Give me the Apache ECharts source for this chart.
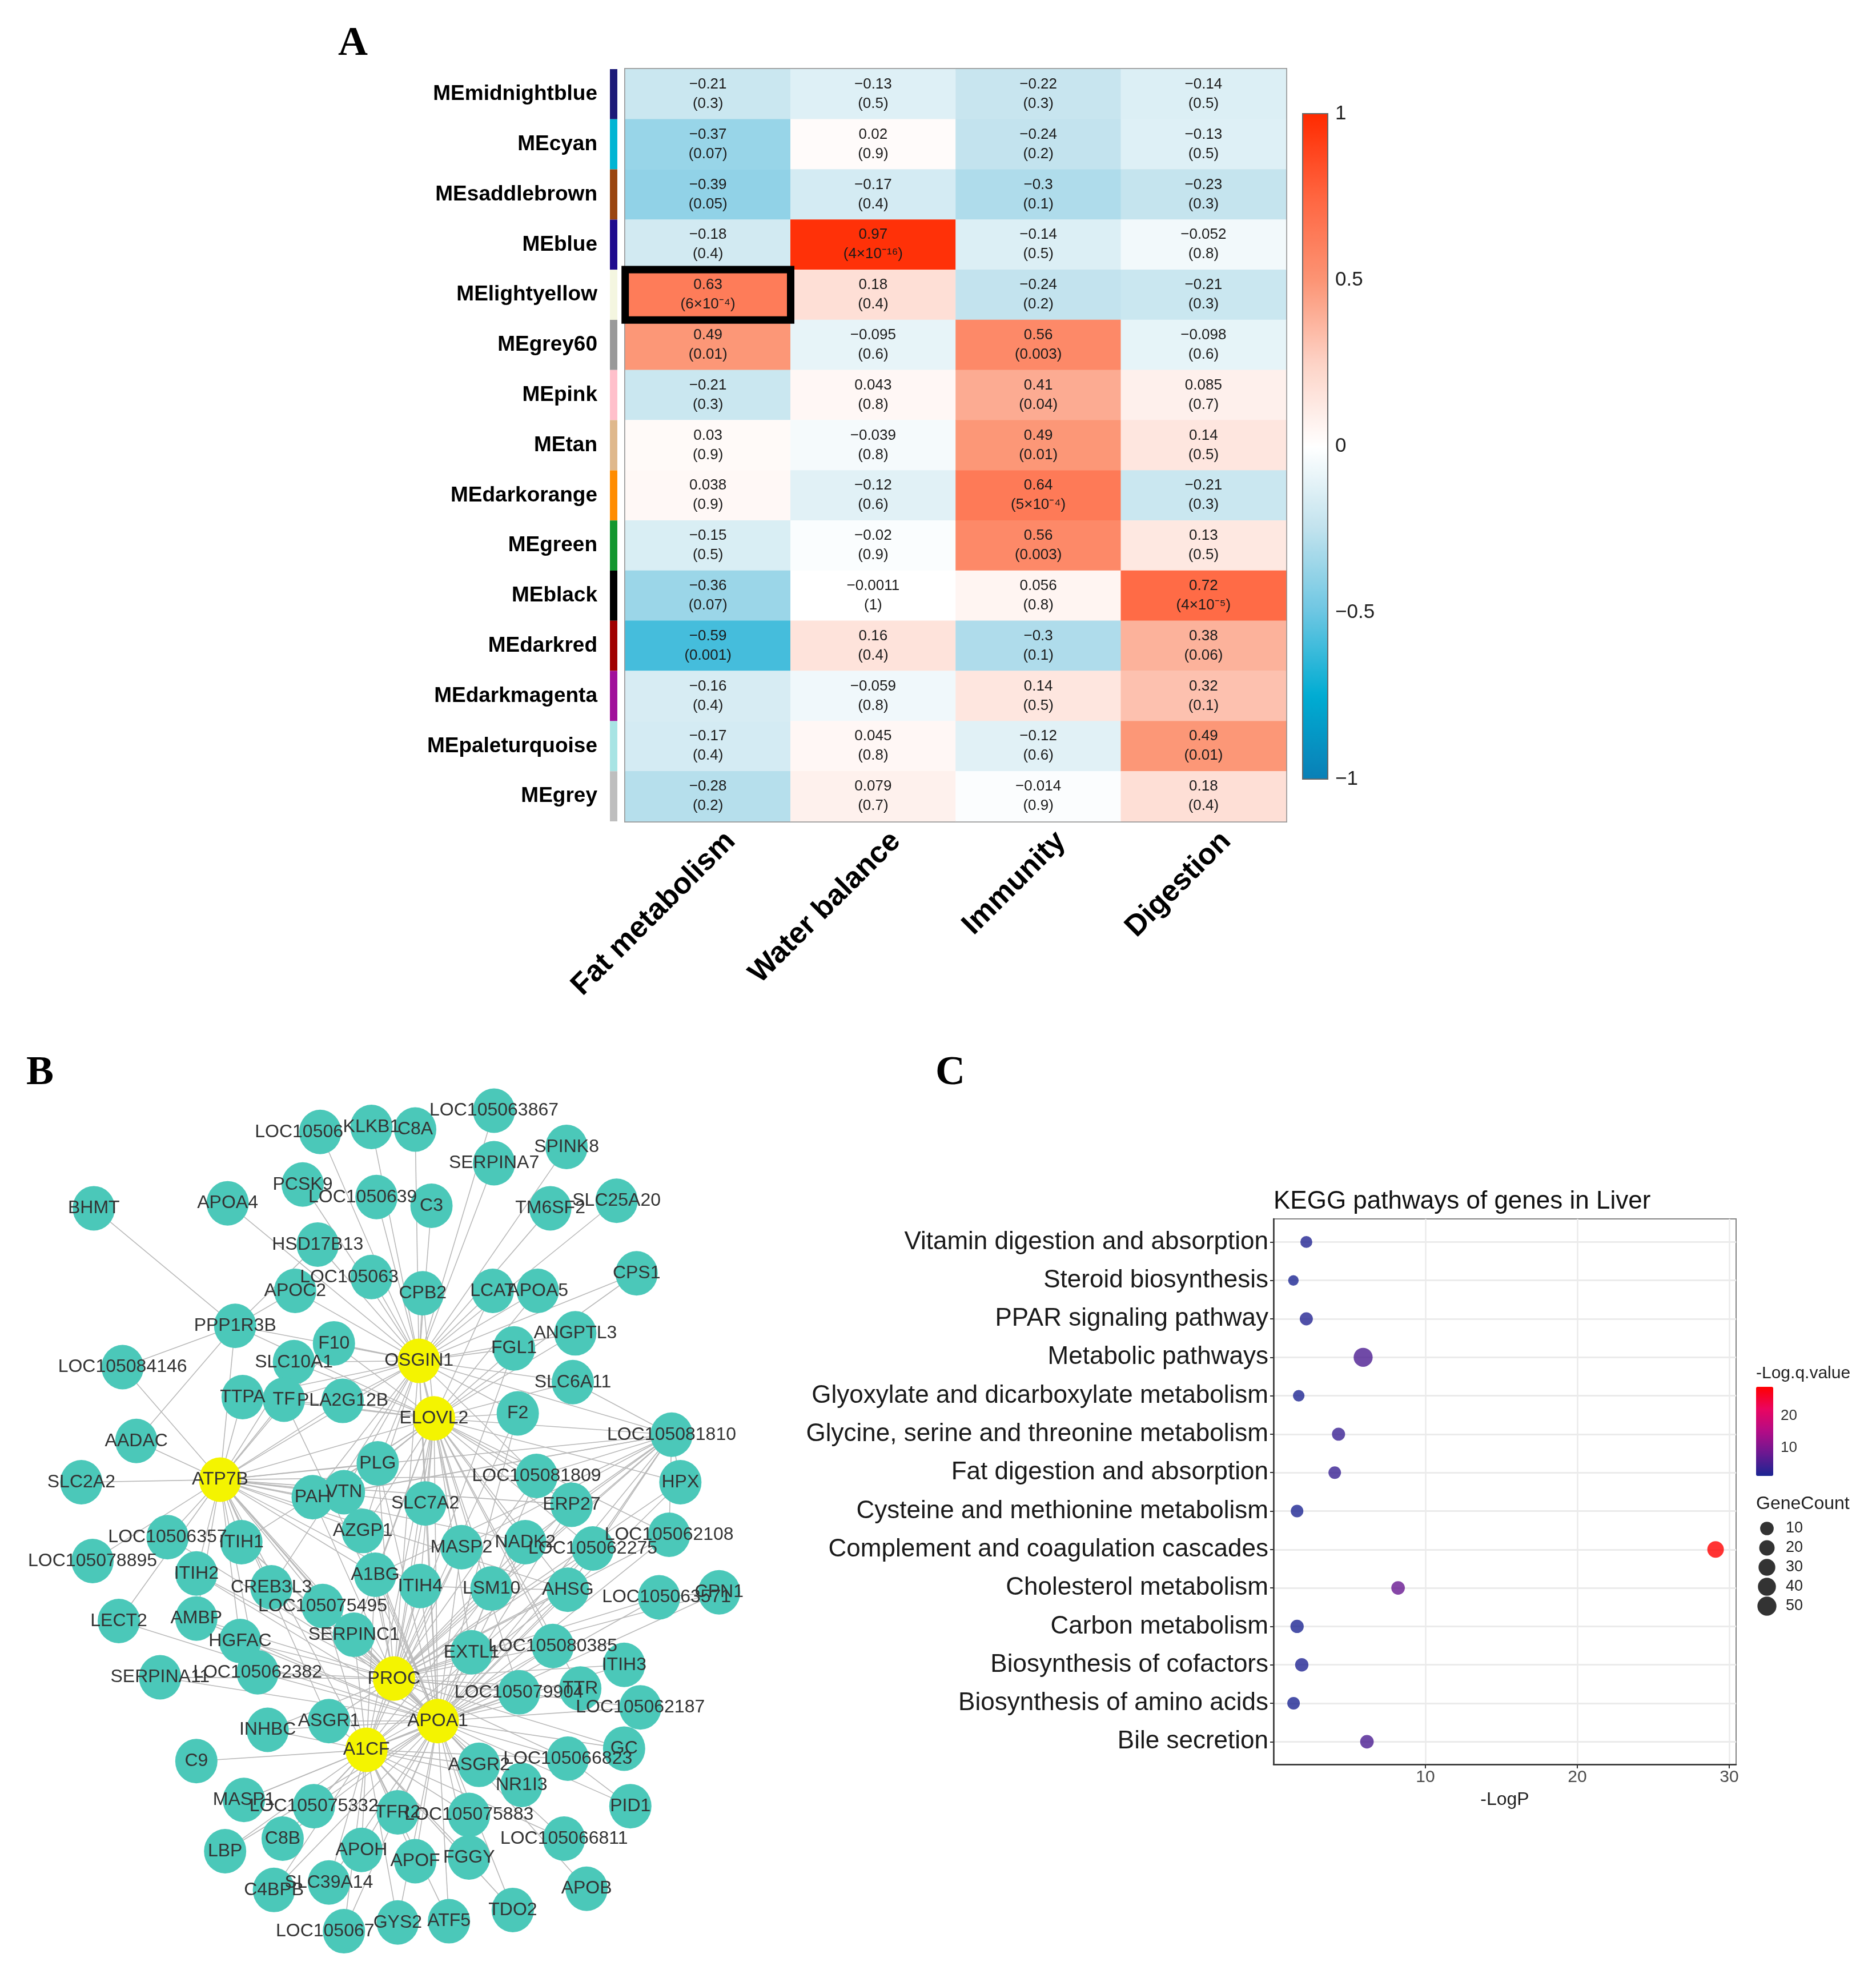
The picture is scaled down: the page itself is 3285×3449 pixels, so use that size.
<!DOCTYPE html>
<html><head><meta charset="utf-8">
<script src="https://cdn.jsdelivr.net/npm/echarts@6/dist/echarts.min.js"></script>
<style>html,body{margin:0;padding:0;background:#fff}#c{width:3285px;height:3449px}</style>
</head><body><div id="c"></div>
<script>
// ---------------- Panel A data ----------------
const moduleNames = ['MEmidnightblue','MEcyan','MEsaddlebrown','MEblue','MElightyellow','MEgrey60','MEpink','MEtan','MEdarkorange','MEgreen','MEblack','MEdarkred','MEdarkmagenta','MEpaleturquoise','MEgrey'];
const moduleColors = ['#1c1a78','#00b5d3','#9a4510','#1e0a8e','#f4f6e0','#999999','#ffc0cb','#dfb88c','#ff8c00','#12962e','#000000','#a00000','#a0109a','#a8e4e4','#bebebe'];
const traitNames = ['Fat metabolism','Water balance','Immunity','Digestion'];
const corrFat = [-0.21,-0.37,-0.39,-0.18,0.63,0.49,-0.21,0.03,0.038,-0.15,-0.36,-0.59,-0.16,-0.17,-0.28];
const corrWater = [-0.13,0.02,-0.17,0.97,0.18,-0.095,0.043,-0.039,-0.12,-0.02,-0.0011,0.16,-0.059,0.045,0.079];
const corrImmunity = [-0.22,-0.24,-0.3,-0.14,-0.24,0.56,0.41,0.49,0.64,0.56,0.056,-0.3,0.14,-0.12,-0.014];
const corrDigestion = [-0.14,-0.13,-0.23,-0.052,-0.21,-0.098,0.085,0.14,-0.21,0.13,0.72,0.38,0.32,0.49,0.18];
const pFat = ['0.3','0.07','0.05','0.4','6×10⁻⁴','0.01','0.3','0.9','0.9','0.5','0.07','0.001','0.4','0.4','0.2'];
const pWater = ['0.5','0.9','0.4','4×10⁻¹⁶','0.4','0.6','0.8','0.8','0.6','0.9','1','0.4','0.8','0.8','0.7'];
const pImmunity = ['0.3','0.2','0.1','0.5','0.2','0.003','0.04','0.01','5×10⁻⁴','0.003','0.8','0.1','0.5','0.6','0.9'];
const pDigestion = ['0.5','0.5','0.3','0.8','0.3','0.6','0.7','0.5','0.3','0.5','4×10⁻⁵','0.06','0.1','0.01','0.4'];
const highlightCell = ['MElightyellow','Fat metabolism'];

// ---------------- Panel B data ----------------
const nodeNames = ['LOC10506','KLKB1','C8A','LOC105063867','SERPINA7','SPINK8','PCSK9','LOC1050639','C3','APOA4','BHMT','TM6SF2','SLC25A20','HSD17B13','LOC105063','APOC2','CPB2','LCAT','APOA5','CPS1','PPP1R3B','F10','OSGIN1','FGL1','ANGPTL3','SLC10A1','LOC105084146','SLC6A11','TTPA','TF','PLA2G12B','ELOVL2','F2','AADAC','LOC105081810','PLG','LOC105081809','HPX','ATP7B','SLC2A2','PAH','VTN','SLC7A2','ERP27','AZGP1','LOC10506357','ITIH1','LOC105078895','MASP2','NADK2','LOC105062275','LOC105062108','ITIH2','CREB3L3','A1BG','ITIH4','LSM10','AHSG','LOC105063571','CPN1','LOC105075495','LECT2','AMBP','HGFAC','SERPINC1','EXTL1','LOC105080385','ITIH3','SERPINA11','LOC105062382','PROC','LOC105079904','TTR','LOC105062187','INHBC','ASGR1','APOA1','A1CF','C9','ASGR2','LOC105066823','GC','NR1I3','PID1','MASP1','LOC105075332','TFR2','LOC105075883','LOC105066811','LBP','C8B','APOH','APOF','FGGY','C4BPB','SLC39A14','APOB','TDO2','LOC105067','GYS2','ATF5'];
const nodeX = [256,297,332,395,395,453,242,301,345,182,75,440,493,254,297,236,338,394,430,509,188,267,335,411,460,235,98,458,194,227,274,347,414,109,537,302,429,544,176,65,250,275,340,457,290,134,193,74,369,420,474,535,157,217,300,336,393,454,527,575,258,95,157,192,283,377,442,499,128,206,315,415,464,512,214,263,350,293,157,383,454,499,417,504,195,251,318,375,451,180,226,289,332,375,219,263,469,410,275,318,359];
const nodeY = [905,901,903,888,930,917,947,957,964,962,966,966,960,995,1021,1032,1034,1032,1032,1018,1060,1074,1088,1078,1066,1089,1093,1105,1117,1119,1120,1134,1130,1152,1147,1170,1180,1185,1183,1185,1197,1193,1202,1203,1224,1229,1233,1248,1237,1233,1238,1227,1258,1269,1259,1268,1270,1271,1277,1273,1284,1296,1294,1312,1307,1321,1316,1331,1341,1337,1342,1353,1350,1365,1383,1376,1376,1399,1408,1411,1406,1398,1427,1444,1439,1444,1449,1451,1470,1480,1470,1479,1488,1485,1511,1505,1510,1527,1544,1537,1536];
const hubNodes = ['OSGIN1','ELOVL2','ATP7B','PROC','APOA1','A1CF'];
const osgin1Links = ['LOC10506','KLKB1','C8A','LOC105063867','SERPINA7','SPINK8','TM6SF2','SLC25A20','C3','LOC1050639','PCSK9','APOA4','HSD17B13','LOC105063','CPB2','LCAT','APOA5','CPS1','APOC2','PPP1R3B','F10','SLC10A1','FGL1','ANGPTL3','SLC6A11','TTPA','TF','PLA2G12B','F2','LOC105081810','PLG','LOC105081809','PAH','VTN','SLC7A2','AZGP1','MASP2','CREB3L3','ELOVL2','ATP7B','PROC','APOA1'];
const elovl2Links = ['CPB2','LCAT','APOA5','CPS1','PPP1R3B','F10','SLC10A1','FGL1','ANGPTL3','SLC6A11','TTPA','TF','PLA2G12B','F2','LOC105081810','PLG','LOC105081809','HPX','PAH','VTN','SLC7A2','ERP27','AZGP1','ITIH1','MASP2','NADK2','LOC105062275','LOC105062108','A1BG','ITIH4','LSM10','AHSG','SERPINC1','EXTL1','LOC105080385','LOC105079904','TTR','ATP7B','PROC','APOA1','A1CF'];
const atp7bLinks = ['PPP1R3B','F10','SLC10A1','LOC105084146','TTPA','TF','PLA2G12B','AADAC','SLC2A2','PLG','LOC105081809','PAH','VTN','SLC7A2','ERP27','AZGP1','LOC10506357','ITIH1','LOC105078895','NADK2','ITIH2','CREB3L3','A1BG','ITIH4','AHSG','LOC105075495','LECT2','AMBP','HGFAC','SERPINC1','LOC105062382','ASGR1','LOC105081810','PROC','APOA1','A1CF'];
const procLinks = ['FGL1','F2','LOC105081810','PLG','LOC105081809','HPX','PAH','SLC7A2','ERP27','AZGP1','LOC10506357','ITIH1','MASP2','NADK2','LOC105062275','LOC105062108','ITIH2','CREB3L3','A1BG','ITIH4','LSM10','AHSG','LOC105063571','CPN1','LOC105075495','AMBP','HGFAC','SERPINC1','EXTL1','LOC105080385','ITIH3','SERPINA11','LOC105062382','LOC105079904','TTR','LOC105062187','INHBC','ASGR1','ASGR2','LOC105066823','GC','APOA1','A1CF'];
const apoa1Links = ['TF','F2','LOC105081810','PLG','LOC105081809','HPX','VTN','SLC7A2','ERP27','AZGP1','ITIH1','MASP2','NADK2','LOC105062275','LOC105062108','ITIH2','CREB3L3','A1BG','ITIH4','LSM10','AHSG','LOC105063571','CPN1','LOC105075495','LECT2','AMBP','HGFAC','SERPINC1','EXTL1','LOC105080385','ITIH3','SERPINA11','LOC105062382','LOC105079904','TTR','LOC105062187','INHBC','ASGR1','ASGR2','LOC105066823','GC','NR1I3','PID1','MASP1','LOC105075332','TFR2','LOC105075883','LOC105066811','LBP','C8B','APOH','APOF','FGGY','C4BPB','SLC39A14','APOB','TDO2','LOC105067','GYS2','ATF5','A1CF'];
const a1cfLinks = ['MASP2','LOC105062275','A1BG','ITIH4','LSM10','AHSG','LOC105075495','SERPINC1','LOC105080385','LOC105079904','INHBC','ASGR1','C9','ASGR2','LOC105066823','NR1I3','MASP1','LOC105075332','TFR2','LOC105075883','LOC105066811','LBP','C8B','APOH','APOF','FGGY','C4BPB','SLC39A14','TDO2','LOC105067','GYS2','ATF5'];
const otherLinks = [['BHMT','PPP1R3B'],['LOC105084146','PPP1R3B'],['AADAC','PPP1R3B'],['HSD17B13','PPP1R3B'],['APOC2','PPP1R3B'],['PID1','LOC105066823'],['LOC105081810','PAH'],['LOC105081810','VTN'],['LOC105081810','ERP27'],['LOC105081810','MASP2'],['LOC105081810','NADK2'],['LOC105081810','LOC105062275'],['LOC105081810','LOC105062108'],['LOC105081810','A1BG'],['LOC105081810','SLC6A11'],['LOC105081810','LSM10'],['LOC105081810','AHSG'],['LOC105081810','LOC105081809'],['LOC105081810','HPX'],['ITIH4','LSM10'],['LSM10','AHSG'],['CPN1','LOC105063571']];

// ---------------- Panel C data ----------------
const pathways = ['Vitamin digestion and absorption','Steroid biosynthesis','PPAR signaling pathway','Metabolic pathways','Glyoxylate and dicarboxylate metabolism','Glycine, serine and threonine metabolism','Fat digestion and absorption','Cysteine and methionine metabolism','Complement and coagulation cascades','Cholesterol metabolism','Carbon metabolism','Biosynthesis of cofactors','Biosynthesis of amino acids','Bile secretion'];
const negLogP = [2.16,1.31,2.16,5.9,1.66,4.28,4.03,1.55,29.1,8.2,1.55,1.86,1.32,6.15];
const negLogQ = [1.9,1.3,2.0,5.6,1.5,4.0,3.8,1.45,29.1,8.0,1.45,1.7,1.25,5.5];
const geneCount = [4,1,8,50,3,8,6,6,28,10,9,9,6,10];
const legendCounts = [10,20,30,40,50];
const qTicks = [10,20];

// ---------------- build ----------------
const FONT = "'Liberation Sans', Arial, Helvetica, sans-serif";
const minus = v => (v < 0 ? '\u2212' + String(-v) : String(v));
const corrCols = [corrFat, corrWater, corrImmunity, corrDigestion];
const pCols = [pFat, pWater, pImmunity, pDigestion];
const hlRow = moduleNames.indexOf(highlightCell[0]);
const hlCol = traitNames.indexOf(highlightCell[1]);
const mainCells = [], hlCells = [];
for (let c = 0; c < traitNames.length; c++) {
  for (let r = 0; r < moduleNames.length; r++) {
    const item = [c, r, corrCols[c][r]];
    if (c === hlCol && r === hlRow) hlCells.push(item); else mainCells.push(item);
  }
}
const cellLabel = {
  show: true, color: '#1a1a1a', fontSize: 26, lineHeight: 34, fontFamily: FONT,
  formatter: p => minus(p.value[2]) + '\n(' + pCols[p.value[0]][p.value[1]] + ')'
};
const heatColors = ['#0a7fb6','#00acd2','#6cc6e2','#c0e2ed','#ffffff','#fdd3c6','#fc9474','#ff6540','#ff2a00'];
const qColors = ['#1b2592','#6a1891','#b30c86','#ea0560','#ff0000'];
const sizeFn = c => 16 + 2.45 * Math.sqrt(c);

const labelShift = {LOC10506: -37, LOC1050639: -24, LOC105063: -39, LOC105067: -33, LOC105063571: 13};
const graphNodes = nodeNames.map((n, i) => {
  const hub = hubNodes.indexOf(n) >= 0;
  return {
    name: n, value: [nodeX[i], nodeY[i]],
    itemStyle: {color: hub ? '#f4f400' : '#4bc8b9'},
    label: {offset: [labelShift[n] || 0, 0]}
  };
});
const graphLinks = [];
[[hubNodes[0], osgin1Links],[hubNodes[1], elovl2Links],[hubNodes[2], atp7bLinks],[hubNodes[3], procLinks],[hubNodes[4], apoa1Links],[hubNodes[5], a1cfLinks]]
  .forEach(([h, list]) => list.forEach(t => graphLinks.push({source: h, target: t})));
otherLinks.forEach(([a, b]) => graphLinks.push({source: a, target: b}));

const keggData = pathways.map((p, i) => [negLogP[i], i, negLogQ[i], geneCount[i]]);
const legendData = legendCounts.map((c, i) => [0, i, c]);

const hidden = {show: false};
const letterFont = "bold 72px 'Liberation Serif', 'Times New Roman', serif";
const option = {
  animation: false,
  backgroundColor: '#ffffff',
  textStyle: {fontFamily: FONT},
  title: [
    {text: 'KEGG pathways of genes in Liver', left: 2230, top: 2082, padding: 0,
     textStyle: {fontSize: 44, fontWeight: 'normal', color: '#111', fontFamily: FONT}},
    {text: '-Log.q.value', left: 3075, top: 2390, padding: 0,
     textStyle: {fontSize: 30, fontWeight: 'normal', color: '#222', fontFamily: FONT}},
    {text: 'GeneCount', left: 3075, top: 2617, padding: 0,
     textStyle: {fontSize: 32, fontWeight: 'normal', color: '#222', fontFamily: FONT}}
  ],
  graphic: [
    {type: 'text', left: 592, top: 41, style: {text: 'A', font: letterFont, fill: '#000'}},
    {type: 'text', left: 46, top: 1843, style: {text: 'B', font: letterFont, fill: '#000'}},
    {type: 'text', left: 1638, top: 1843, style: {text: 'C', font: letterFont, fill: '#000'}}
  ],
  grid: [
    {left: 1095, top: 121, width: 1157, height: 1317, show: true, borderColor: '#9a9a9a', borderWidth: 4},
    {left: 1068, top: 121, width: 13, height: 1317},
    {left: 2281, top: 199, width: 44, height: 1165, show: true, borderColor: '#666', borderWidth: 2, z: 10, backgroundColor: 'transparent'},
    {left: 0, top: 0, width: 3285, height: 3449},
    {left: 2230, top: 2134, width: 810, height: 955, show: true, borderColor: '#858585', borderWidth: 2},
    {left: 2230, top: 2174.4, width: 810, height: 874.9},
    {left: 3075, top: 2428, width: 30, height: 156},
    {left: 3078, top: 2659, width: 32, height: 170}
  ],
  xAxis: [
    {gridIndex: 0, type: 'category', data: traitNames, axisLine: hidden, axisTick: hidden, splitLine: hidden,
     axisLabel: {rotate: 45, fontSize: 52, fontWeight: 'bold', color: '#000', margin: -13, verticalAlign: 'top', lineHeight: 113, fontFamily: FONT}},
    {gridIndex: 1, type: 'value', min: 0, max: 1, show: false},
    {gridIndex: 2, type: 'value', min: 0, max: 1, show: false},
    {gridIndex: 3, type: 'value', min: 0, max: 1500, show: false},
    {gridIndex: 4, type: 'value', min: 0, max: 30.45, interval: 5,
     axisLine: {show: true, lineStyle: {color: '#333', width: 2.5}},
     axisTick: {show: true, customValues: [10, 20, 30], length: 7, lineStyle: {color: '#333', width: 2}},
     axisLabel: {customValues: [10, 20, 30], fontSize: 30, color: '#4d4d4d', margin: 8, fontFamily: FONT,
                 formatter: v => (v > 0 && v % 10 === 0 ? String(v) : '')},
     splitLine: {show: true, lineStyle: {color: '#ebebeb', width: 2.5}},
     name: '-LogP', nameLocation: 'middle', nameGap: 46, nameTextStyle: {fontSize: 32, color: '#222', fontFamily: FONT}},
    {gridIndex: 5, type: 'value', min: 0, max: 30.45, show: false},
    {gridIndex: 6, type: 'value', min: 0, max: 1, show: false},
    {gridIndex: 7, type: 'value', min: -1, max: 1, show: false}
  ],
  yAxis: [
    {gridIndex: 0, type: 'category', data: moduleNames, inverse: true, axisLine: hidden, axisTick: hidden, splitLine: hidden,
     axisLabel: {fontSize: 37, fontWeight: 'bold', color: '#000', margin: 49, fontFamily: FONT}},
    {gridIndex: 1, type: 'category', data: moduleNames, inverse: true, show: false},
    {gridIndex: 2, type: 'value', min: -1, max: 1, interval: 0.5, position: 'right',
     axisLine: {show: true, lineStyle: {color: '#555', width: 2}},
     axisTick: {show: true, length: 30, lineStyle: {color: '#555', width: 2}},
     axisLabel: {fontSize: 35, color: '#222', margin: 13, fontFamily: FONT, formatter: v => minus(v)},
     splitLine: hidden},
    {gridIndex: 3, type: 'value', min: 0, max: 1575, inverse: true, show: false},
    {gridIndex: 4, type: 'value', min: 0, max: 1, axisLine: {show: true, lineStyle: {color: '#333', width: 2.5}},
     axisTick: hidden, axisLabel: hidden, splitLine: hidden},
    {gridIndex: 5, type: 'category', data: pathways, inverse: true, boundaryGap: false,
     axisLine: hidden,
     axisTick: {show: true, length: 6, lineStyle: {color: '#333', width: 2}},
     axisLabel: {fontSize: 44, color: '#1a1a1a', margin: 9, fontFamily: FONT, interval: 0},
     splitLine: {show: true, lineStyle: {color: '#ebebeb', width: 3}}},
    {gridIndex: 6, type: 'value', min: 1.25, max: 29.1, position: 'right', axisLine: hidden,
     axisTick: {show: true, inside: true, customValues: qTicks, length: 6, lineStyle: {color: '#fff', width: 2}},
     axisLabel: {customValues: qTicks, fontSize: 26, color: '#333', margin: 13, fontFamily: FONT,
                 formatter: v => (qTicks.indexOf(v) >= 0 ? String(v) : '')},
     splitLine: hidden},
    {gridIndex: 7, type: 'category', data: legendCounts.map(String), inverse: true, position: 'right',
     axisLine: hidden, axisTick: hidden, splitLine: hidden,
     axisLabel: {fontSize: 27, color: '#222', margin: 17, fontFamily: FONT, interval: 0}},
    {gridIndex: 6, type: 'value', min: 1.25, max: 29.1, position: 'left', axisLine: hidden, axisLabel: hidden,
     axisTick: {show: true, inside: true, customValues: qTicks, length: 6, lineStyle: {color: '#fff', width: 2}},
     splitLine: hidden}
  ],
  visualMap: [
    {type: 'continuous', seriesIndex: [0, 1], dimension: 2, min: -1, max: 1, calculable: false,
     inRange: {color: heatColors}, left: 2281, top: 199, itemWidth: 44, itemHeight: 1165, padding: 0, text: null},
    {type: 'continuous', seriesIndex: 5, dimension: 2, min: 1.25, max: 29.1, calculable: false,
     inRange: {color: qColors}, left: 3075, top: 2428, itemWidth: 30, itemHeight: 156, padding: 0, text: null}
  ],
  series: [
    {type: 'heatmap', xAxisIndex: 0, yAxisIndex: 0, data: mainCells, label: cellLabel, silent: true},
    {type: 'heatmap', xAxisIndex: 0, yAxisIndex: 0, data: hlCells, label: cellLabel, silent: true, z: 4,
     itemStyle: {borderColor: '#000', borderWidth: 13}},
    {type: 'bar', xAxisIndex: 1, yAxisIndex: 1, barCategoryGap: '0%', silent: true,
     data: moduleColors.map(c => ({value: 1, itemStyle: {color: c}}))},
    {type: 'scatter', xAxisIndex: 2, yAxisIndex: 2, data: []},
    {type: 'graph', coordinateSystem: 'cartesian2d', xAxisIndex: 3, yAxisIndex: 3, silent: true,
     symbol: 'circle', symbolSize: [74, 78], data: graphNodes, links: graphLinks,
     lineStyle: {color: '#b9b9b9', width: 1.6, opacity: 1, curveness: 0},
     label: {show: true, position: 'inside', fontSize: 32, color: '#333', fontFamily: FONT}},
    {type: 'scatter', xAxisIndex: 5, yAxisIndex: 5, data: keggData, silent: true,
     encode: {x: 0, y: 1}, symbolSize: v => sizeFn(v[3])},
    {type: 'scatter', xAxisIndex: 7, yAxisIndex: 7, data: legendData, silent: true,
     encode: {x: 0, y: 1}, symbolSize: v => sizeFn(v[2]), itemStyle: {color: '#000'}},
    {type: 'scatter', xAxisIndex: 4, yAxisIndex: 4, data: []},
    {type: 'scatter', xAxisIndex: 6, yAxisIndex: 6, data: []},
    {type: 'scatter', xAxisIndex: 6, yAxisIndex: 8, data: []}
  ]
};
const chart = echarts.init(document.getElementById('c'), null, {renderer: 'canvas', width: 3285, height: 3449});
chart.setOption(option);
</script></body></html>
